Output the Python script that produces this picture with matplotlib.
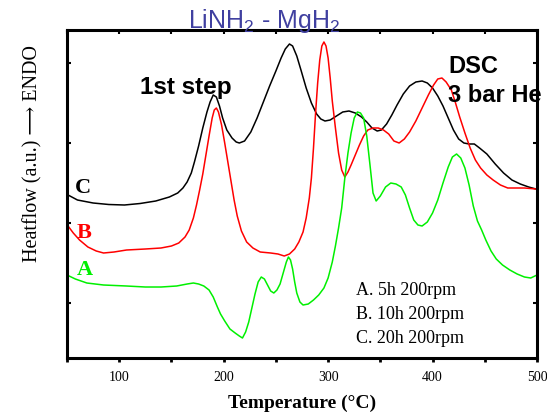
import numpy as np
import matplotlib
matplotlib.use("Agg")
from matplotlib import pyplot as plt
from matplotlib.ticker import MultipleLocator

plt.rcParams['mathtext.fontset'] = 'custom'
plt.rcParams['mathtext.rm'] = 'Liberation Sans'

# curve C (20h), black
c_temp = [51, 60, 75, 90, 105, 120, 135, 148, 156, 161, 165, 169, 172, 176, 180,
          184, 187, 190, 193, 196, 199, 203, 208, 212, 215, 220, 226, 232, 238,
          244, 250, 255, 259, 263, 266, 270, 274, 279, 284, 289, 293, 297, 302,
          308, 314, 320, 326, 332, 337, 342, 347, 351, 356, 361, 366, 372, 378,
          384, 390, 395, 400, 405, 410, 415, 420, 425, 430, 435, 440, 445, 452,
          460, 468, 476, 484, 492, 499]
c_heat = [163, 158, 155, 153.5, 153, 154.5, 157, 161, 165, 170, 176, 185, 196, 212, 230,
          246, 256, 263, 261, 252, 240, 228, 220, 216, 215, 217, 226, 240, 256,
          272, 287, 300, 309, 314, 312, 302, 288, 270, 255, 244, 239, 237, 238,
          242, 246, 247, 245, 241, 236, 230, 227, 228, 234, 243, 253, 264, 272,
          276, 277, 275, 270, 262, 252, 240, 228, 219, 215, 214, 214, 210, 204,
          194, 185, 178, 174, 171, 169]

# curve B (10h), red
b_temp = [51, 56, 62, 70, 78, 85, 95, 107, 125, 140, 150, 157, 163, 167, 171,
          174, 177, 180, 183, 186, 189, 191, 193, 195, 198, 201, 204, 207, 210,
          213, 217, 222, 228, 235, 245, 252, 258, 263, 268, 272, 276, 279, 282,
          284, 286, 288, 290, 292, 294, 296, 298, 300, 302, 304, 307, 310, 313,
          316, 319, 322, 326, 330, 334, 338, 343, 348, 353, 358, 363, 368, 373,
          378, 384, 390, 396, 401, 405, 409, 413, 418, 422, 426, 431, 436, 441,
          446, 452, 458, 465, 472, 480, 488, 499]
b_heat = [132, 125, 118, 111, 107, 105, 106, 108, 109, 110, 112, 115, 121, 128, 140,
          153, 168, 184, 203, 222, 240, 248, 250, 246, 233, 215, 196, 177, 158,
          142, 127, 116, 110, 106, 105, 104, 102, 104, 109, 116, 126, 140, 160,
          180, 210, 245, 275, 298, 312, 316, 312, 300, 280, 257, 230, 205, 188,
          181, 186, 193, 203, 213, 222, 228, 230, 230, 228, 224, 217, 215, 219,
          226, 237, 250, 263, 273, 279, 280, 276, 268, 255, 241, 225, 210, 198,
          190, 183, 178, 173, 170, 170, 170, 169]

# curve A (5h), green
a_temp = [50, 58, 69, 85, 107, 125, 140, 155, 165, 171, 176, 181, 186, 190, 194,
          197, 201, 206, 211, 215, 218, 221, 224, 227, 230, 233, 236, 239, 242,
          245, 248, 251, 254, 257, 260, 262, 264, 266, 268, 270, 273, 276, 281,
          286, 291, 296, 300, 304, 307, 310, 313, 316, 319, 322, 325, 328, 331,
          334, 337, 340, 343, 346, 350, 355, 360, 365, 370, 374, 378, 382, 386,
          390, 395, 400, 405, 410, 415, 419, 423, 427, 431, 435, 439, 443, 447,
          451, 456, 461, 467, 474, 481, 488, 494, 500]
a_heat = [83, 79, 75, 73, 72, 71, 71, 72, 74, 75, 74, 72, 68, 61, 51,
          44, 37, 29, 25, 22, 20, 26, 36, 50, 64, 76, 81, 79, 73,
          67, 65, 68, 74, 85, 96, 101, 98, 89, 76, 65, 56, 53, 54,
          58, 63, 70, 80, 96, 112, 130, 150, 180, 205, 225, 240, 246, 245,
          240, 222, 194, 165, 157, 162, 171, 175, 174, 171, 163, 150, 138, 133,
          132, 136, 145, 158, 175, 191, 201, 204, 200, 190, 173, 152, 137, 128,
          118, 107, 99, 93, 88, 84, 81, 80, 83]

curve_labels = ['A', 'B', 'C']
legend_lines = ['A. 5h 200rpm', 'B. 10h 200rpm', 'C. 20h 200rpm']

GREEN = '#00f000'
RED = '#ff0000'

fig = plt.figure(figsize=(5.47, 4.16), dpi=100)
ax = fig.add_axes([0.1225, 0.1394, 0.8592, 0.7885])

ax.plot(c_temp, c_heat, color='black', lw=1.1)
ax.plot(b_temp, b_heat, color=RED, lw=1.1)
ax.plot(a_temp, a_heat, color=GREEN, lw=1.1)

ax.set_xlim(50, 500)
ax.set_ylim(0, 328)
ax.xaxis.set_major_locator(MultipleLocator(100))
ax.xaxis.set_minor_locator(MultipleLocator(50))
ax.set_yticks([55, 135, 215, 295])
ax.set_yticklabels([])
for s in ax.spines.values():
    s.set_linewidth(2.2)
ax.tick_params(axis='x', which='both', direction='out', length=3, width=2,
               labelsize=10, pad=6)
ax.tick_params(axis='y', which='both', direction='in', length=3, width=1.5,
               left=True, right=True)
for lbl in ax.get_xticklabels():
    lbl.set_family('Liberation Serif')

top = ax.secondary_xaxis('top')
top.xaxis.set_major_locator(MultipleLocator(50))
top.tick_params(direction='in', length=3, width=1.5, labeltop=False)
top.spines['top'].set_visible(False)

ax.set_xlabel('Temperature (\u00b0C)', family='Liberation Serif',
              fontweight='bold', fontsize=14, labelpad=8)
ax.set_ylabel('Heatflow (a.u.) \u27f6 ENDO', family=['Liberation Serif', 'DejaVu Serif'],
              fontsize=14.5)
ax.yaxis.set_label_coords(-0.052, 0.622)

ax.text(0.419, 1.005, r'LiNH$_2$ - MgH$_2$', transform=ax.transAxes,
        ha='center', va='baseline', fontsize=18, color='#4040a0',
        family='Liberation Sans', zorder=10)

ax.text(120, 264, '1st step', family='Liberation Sans', fontweight='bold',
        fontsize=17.5)
ax.text(415, 285, 'DSC', family='Liberation Sans', fontweight='bold', fontsize=17)
ax.text(415, 256, '3 bar He', family='Liberation Sans', fontweight='bold',
        fontsize=17, clip_on=False)

label_pos = [(59.5, 83), (59.5, 120), (58, 165)]
label_col = [GREEN, RED, 'black']
for lab, (x, y), col in zip(curve_labels, label_pos, label_col):
    ax.text(x, y, lab, family='Liberation Serif', fontweight='bold',
            fontsize=16, color=col)

for i, line in enumerate(legend_lines):
    ax.text(326.5, 63 - i * 24, line, family='Liberation Serif', fontsize=13)

fig.savefig('out.png', dpi=100)
